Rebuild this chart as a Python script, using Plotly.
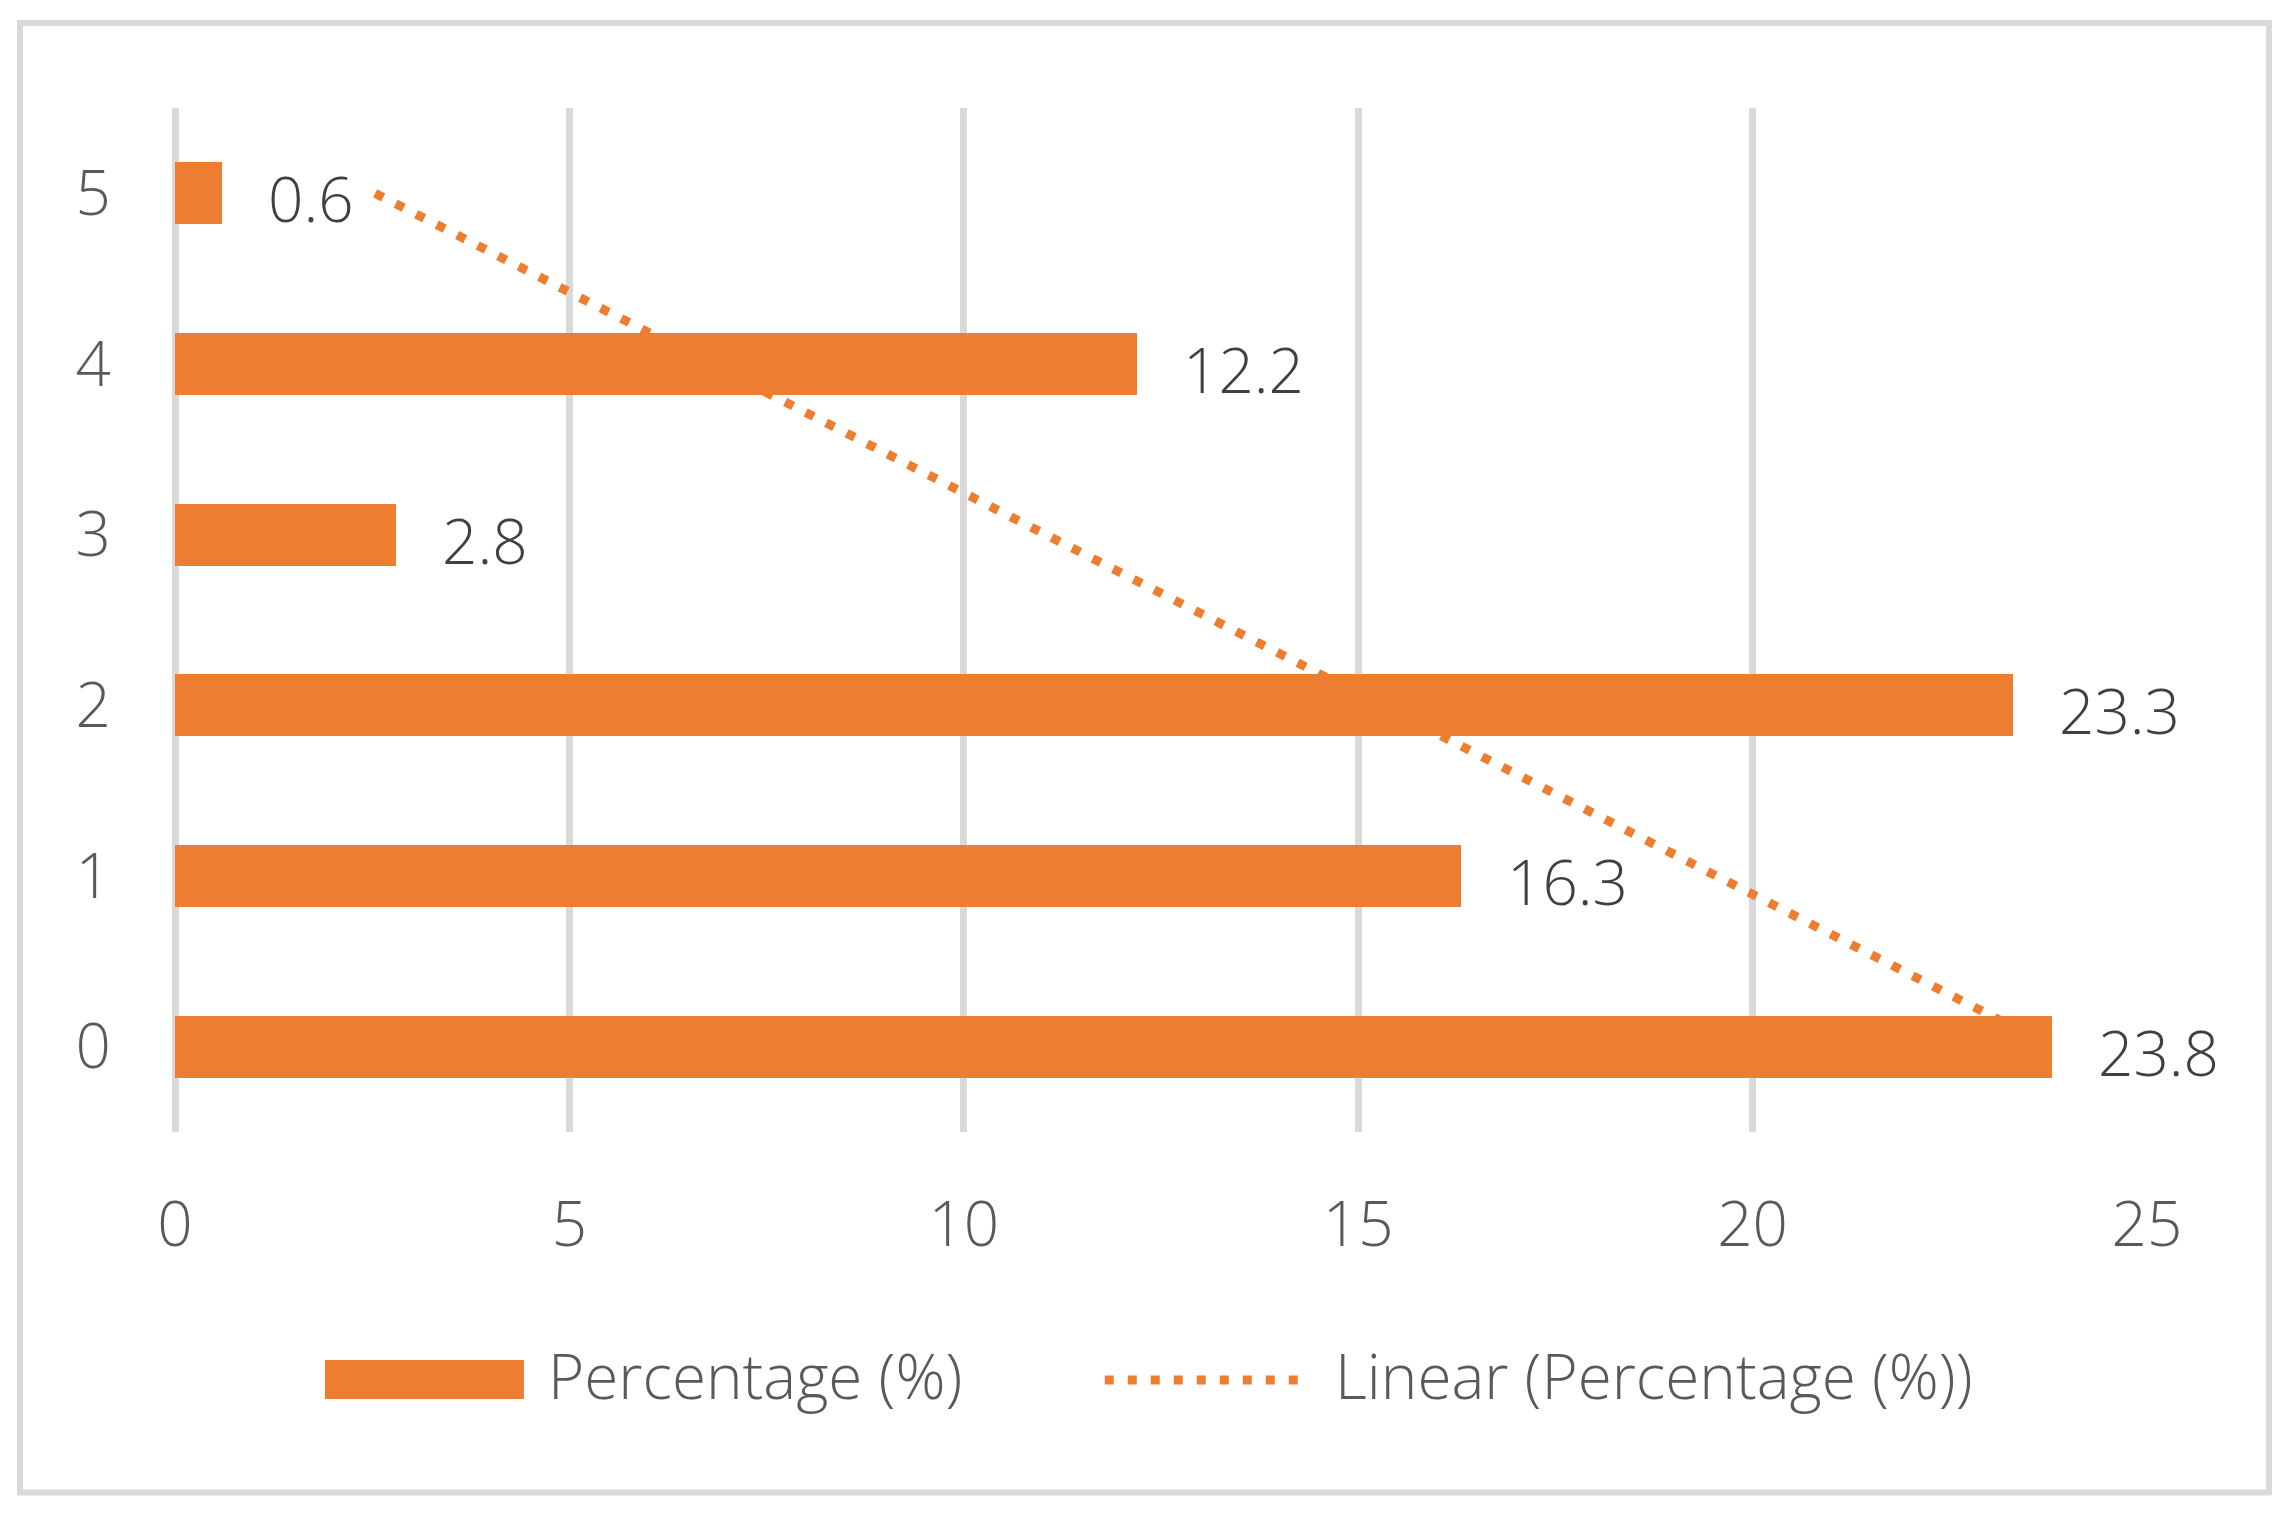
import numpy as np
import plotly.graph_objects as go

# ---- data ----
categories = [0, 1, 2, 3, 4, 5]
percentages = [23.8, 16.3, 23.3, 2.8, 12.2, 0.6]
x_ticks = [0, 5, 10, 15, 20, 25]
series_name = "Percentage (%)"
trend_name = "Linear (Percentage (%))"

# ---- style ----
ORANGE = "#ED7D31"
GRID = "#D9D9D9"
FONT = "Open Sans"
FS = 62
OFF = 8  # default page body margin
W, H = 2292 - OFF, 1514 - OFF
ML, MT = 175 - OFF, 108 - OFF
MR = W - (2147.5 - OFF)
MB = H - (1132 - OFF)
PW = W - ML - MR
PH = H - MT - MB


def px_x(p):
    return (p - OFF - ML) / PW


def px_y(p):
    return (H - MB - (p - OFF)) / PH


# Linear trendline (least squares over category index), as Excel computes it
slope, intercept = np.polyfit(categories, percentages, 1)
trend_x = [slope * c + intercept for c in categories]

fig = go.Figure()
fig.add_trace(go.Bar(
    y=categories, x=percentages, orientation="h", width=0.364,
    marker=dict(color=ORANGE, line=dict(width=0)),
    name=series_name, showlegend=False,
))
fig.add_trace(go.Scatter(
    y=categories[::-1], x=trend_x[::-1], mode="lines",
    line=dict(color=ORANGE, width=9, dash="9px,14px"),
    name=trend_name, showlegend=False,
))

for c, v in zip(categories, percentages):
    fig.add_annotation(
        x=v, y=c, text=f"{v:.1f}", xanchor="left", yanchor="middle",
        xshift=44, yshift=-5, showarrow=False,
        font=dict(family=FONT, size=FS, color="#404040", weight=300),
    )

# ---- manual legend (Excel style, large swatches) ----
fig.add_shape(type="rect", xref="paper", yref="paper",
              x0=px_x(325), x1=px_x(524), y0=px_y(1399), y1=px_y(1360),
              fillcolor=ORANGE, line=dict(width=0))
fig.add_annotation(xref="paper", yref="paper", x=px_x(546), y=px_y(1375),
                   text=series_name, xanchor="left", yanchor="middle",
                   showarrow=False,
                   font=dict(family=FONT, size=FS, color="#595959", weight=300))
fig.add_shape(type="line", xref="paper", yref="paper",
              x0=px_x(1105), x1=px_x(1310), y0=px_y(1380), y1=px_y(1380),
              line=dict(color=ORANGE, width=9, dash="9px,14px"))
fig.add_annotation(xref="paper", yref="paper", x=px_x(1333), y=px_y(1375),
                   text=trend_name, xanchor="left", yanchor="middle",
                   showarrow=False,
                   font=dict(family=FONT, size=FS, color="#595959", weight=300))

# ---- outer border ----
fig.add_shape(type="rect", xref="paper", yref="paper",
              x0=px_x(20), x1=px_x(2269.5), y0=px_y(1492.5), y1=px_y(23),
              line=dict(color=GRID, width=6), fillcolor="rgba(0,0,0,0)",
              layer="below")

fig.update_layout(
    width=W, height=H,
    margin=dict(l=ML, r=MR, t=MT, b=MB, pad=0),
    paper_bgcolor="white", plot_bgcolor="white",
    showlegend=False,
    font=dict(family=FONT, size=FS, color="#595959"),
    bargap=0,
)
fig.update_xaxes(
    range=[0, 25], tickvals=x_ticks, ticktext=[str(t) for t in x_ticks],
    showgrid=True, gridcolor=GRID, gridwidth=7,
    zeroline=True, zerolinecolor=GRID, zerolinewidth=7,
    showline=False, ticks="", ticklabelstandoff=51,
    tickfont=dict(family=FONT, size=FS, color="#595959", weight=300),
    fixedrange=True,
)
fig.update_yaxes(
    range=[-0.5, 5.5], tickvals=categories, ticktext=[str(c) for c in categories],
    showgrid=False, zeroline=False, showline=False, ticks="",
    ticklabelstandoff=63,
    tickfont=dict(family=FONT, size=FS, color="#595959", weight=300),
    fixedrange=True,
)

fig.write_html("out.html")
